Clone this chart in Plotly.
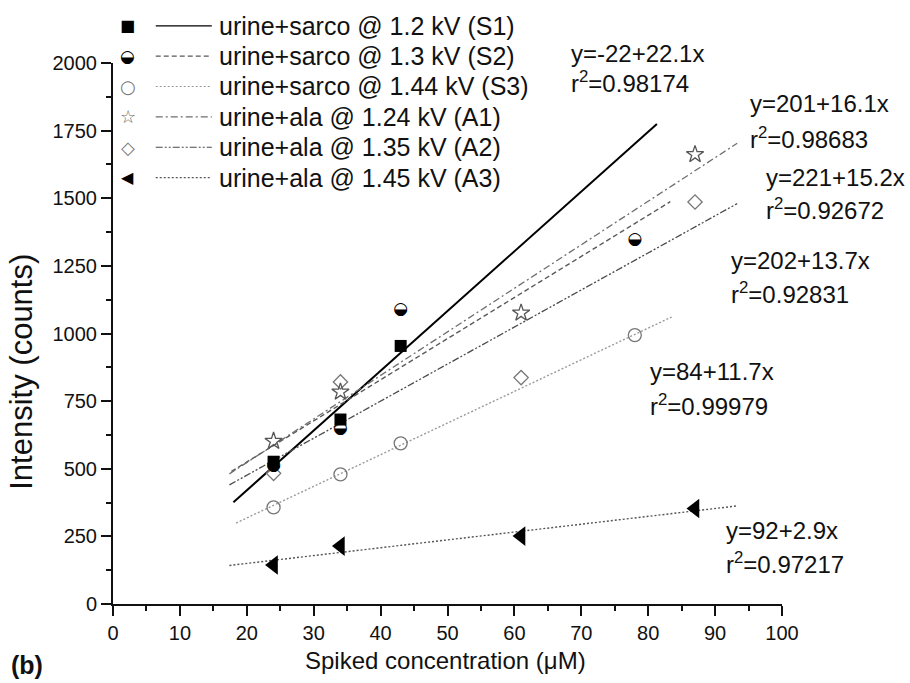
import numpy as np
import plotly.graph_objects as go

# ---------------- data ----------------
conc_S1 = [24, 34, 43]
conc_sarco = [24, 34, 43, 78]
conc_ala = [24, 34, 61, 87]

S1 = [526, 682, 954]
S2 = [510, 649, 1089, 1347]
S3 = [357, 479, 594, 994]
A1 = [602, 784, 1076, 1662]
A2 = [483, 821, 837, 1486]
A3 = [144, 214, 251, 353]

series_names = [
    "urine+sarco @ 1.2 kV (S1)",
    "urine+sarco @ 1.3 kV (S2)",
    "urine+sarco @ 1.44 kV (S3)",
    "urine+ala @ 1.24 kV (A1)",
    "urine+ala @ 1.35 kV (A2)",
    "urine+ala @ 1.45 kV (A3)",
]
fit_intercept = [-22, 221, 84, 201, 202, 92]
fit_slope = [22.1, 15.2, 11.7, 16.1, 13.7, 2.9]
fit_r2 = ["0.98174", "0.92672", "0.99979", "0.98683", "0.92831", "0.97217"]
fit_x_start = [18.0, 17.7, 18.4, 17.4, 17.4, 17.4]
fit_x_end = [81.3, 83.3, 83.5, 93.3, 93.3, 93.3]

x_ticks = list(range(0, 101, 10))
y_ticks = list(range(0, 2001, 250))

# ---------------- layout geometry (pixels) ----------------
W, H = 910, 683
PL, PR, PT, PB = 113.3, 781.7, 62.7, 604.0

def px(xp):
    return (xp - PL) / (PR - PL)

def py(yp):
    return (PB - yp) / (PB - PT)

FONT = "Arial, Liberation Sans, Helvetica, sans-serif"
GLYPH = "DejaVu Sans"

line_colors = ["#000000", "#5a5a5a", "#9a9a9a", "#6e6e6e", "#4a4a4a", "#555555"]
line_dash = ["solid", "5px,3px", "2px,2px", "7px,3px,2px,3px", "7px,2px,2px,2px,2px,2px", "2px,2px"]
line_width = [2.0, 1.4, 1.4, 1.3, 1.3, 1.4]

fig = go.Figure()

# fit lines
for i in range(6):
    xs = np.array([fit_x_start[i], fit_x_end[i]])
    ys = fit_intercept[i] + fit_slope[i] * xs
    fig.add_trace(go.Scatter(
        x=xs, y=ys, mode="lines", showlegend=False, hoverinfo="skip",
        line=dict(color=line_colors[i], width=line_width[i], dash=line_dash[i]),
    ))

# data markers
fig.add_trace(go.Scatter(x=conc_sarco, y=S3, mode="markers", showlegend=False,
                         marker=dict(symbol="circle-open", size=13, color="#777777", line=dict(width=1.3))))
fig.add_trace(go.Scatter(x=conc_ala, y=A2, mode="markers", showlegend=False,
                         marker=dict(symbol="diamond-open", size=11, color="#777777", line=dict(width=1.3))))
fig.add_trace(go.Scatter(x=conc_ala, y=A1, mode="markers", showlegend=False,
                         marker=dict(symbol="star-open", size=13, color="#555555", line=dict(width=1.3))))
fig.add_trace(go.Scatter(x=conc_ala, y=A3, mode="markers", showlegend=False,
                         marker=dict(symbol="triangle-left", size=17, color="#000000", line=dict(width=0))))
fig.add_trace(go.Scatter(x=conc_S1, y=S1, mode="markers", showlegend=False,
                         marker=dict(symbol="square", size=12, color="#000000", line=dict(width=0))))
fig.add_trace(go.Scatter(x=conc_sarco, y=S2, mode="text", showlegend=False,
                         text=["\u25D2"] * len(S2), textposition="middle center",
                         textfont=dict(family=GLYPH, size=17, color="#000000")))

annotations = []
shapes = []

# manual legend
leg_rows = [25.5, 55.8, 86.2, 116.6, 147.0, 177.4]
leg_glyphs = ["\u25A0", "\u25D2", "\u25CB", "\u2606", "\u25C7", "\u25C0"]
leg_glyph_colors = ["#000000", "#000000", "#777777", "#666666", "#777777", "#000000"]
leg_glyph_sizes = [16, 17, 18, 18, 18, 16]
for i in range(6):
    yy = py(leg_rows[i])
    annotations.append(dict(x=px(128), y=yy, xref="paper", yref="paper", text=leg_glyphs[i],
                            showarrow=False, xanchor="center", yanchor="middle",
                            font=dict(family=GLYPH, size=leg_glyph_sizes[i], color=leg_glyph_colors[i])))
    shapes.append(dict(type="line", xref="paper", yref="paper", x0=px(156), x1=px(212), y0=yy, y1=yy,
                       line=dict(color=line_colors[i], width=1.2, dash=line_dash[i])))
    annotations.append(dict(x=px(217), y=yy, xref="paper", yref="paper", text=series_names[i],
                            showarrow=False, xanchor="left", yanchor="middle",
                            font=dict(family=FONT, size=25, color="#111111")))

# equation labels (left x px, eq centre y px, r2 centre y px)
eq_pos = [
    (569, 53, 82),     # S1
    (764, 177, 209),   # S2
    (648, 371, 405),   # S3
    (748, 103, 138),   # A1
    (729, 260, 293),   # A2
    (724, 530, 563),   # A3
]
for i in range(6):
    xl, ye, yr = eq_pos[i]
    b = fit_intercept[i]
    eq = "y=%d+%.1fx" % (b, fit_slope[i])
    annotations.append(dict(x=px(xl), y=py(ye), xref="paper", yref="paper", text=eq,
                            showarrow=False, xanchor="left", yanchor="middle",
                            font=dict(family=FONT, size=24, color="#111111")))
    annotations.append(dict(x=px(xl), y=py(yr), xref="paper", yref="paper",
                            text="r<sup>2</sup>=" + fit_r2[i],
                            showarrow=False, xanchor="left", yanchor="middle",
                            font=dict(family=FONT, size=24, color="#111111")))

# axis titles and panel label
annotations.append(dict(x=px(446), y=py(661), xref="paper", yref="paper",
                        text="Spiked concentration (\u03bcM)", showarrow=False,
                        xanchor="center", yanchor="middle",
                        font=dict(family=FONT, size=24, color="#111111")))
annotations.append(dict(x=px(22), y=py(372), xref="paper", yref="paper",
                        text="Intensity (counts)", showarrow=False, textangle=-90,
                        xanchor="center", yanchor="middle",
                        font=dict(family=FONT, size=31, color="#111111")))
annotations.append(dict(x=px(9), y=py(665), xref="paper", yref="paper",
                        text="<b>(b)</b>", showarrow=False,
                        xanchor="left", yanchor="middle",
                        font=dict(family=FONT, size=25, color="#111111")))

fig.update_layout(
    width=W, height=H,
    margin=dict(l=PL, r=W - PR, t=PT, b=H - PB, pad=0),
    paper_bgcolor="white", plot_bgcolor="white",
    showlegend=False,
    annotations=annotations, shapes=shapes,
    font=dict(family=FONT, color="#111111"),
)
fig.update_xaxes(
    range=[0, 100], tickvals=x_ticks, ticktext=[str(v) for v in x_ticks],
    showgrid=False, zeroline=False, showline=True, linecolor="#111111", linewidth=2,
    ticks="outside", ticklen=10, tickwidth=2, tickcolor="#111111",
    tickfont=dict(family=FONT, size=20, color="#111111"),
    minor=dict(dtick=5, ticks="outside", ticklen=5, tickwidth=2, tickcolor="#111111"),
)
fig.update_yaxes(
    range=[0, 2000], tickvals=y_ticks, ticktext=[str(v) for v in y_ticks],
    showgrid=False, zeroline=False, showline=True, linecolor="#111111", linewidth=2,
    ticks="outside", ticklen=10, tickwidth=2, tickcolor="#111111",
    tickfont=dict(family=FONT, size=20, color="#111111"),
    minor=dict(dtick=125, ticks="outside", ticklen=5, tickwidth=2, tickcolor="#111111"),
)
fig.update_traces(cliponaxis=False)

fig.write_html("out.html", config={"displayModeBar": False},
               post_script="document.body.style.margin='0';")
